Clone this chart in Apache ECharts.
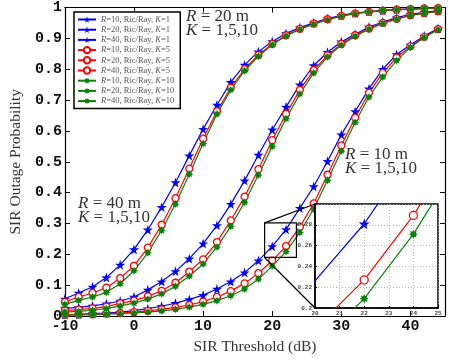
<!DOCTYPE html>
<html>
<head>
<meta charset="utf-8">
<script src="https://cdn.jsdelivr.net/npm/echarts@6/dist/echarts.min.js"></script>
<style>
  html, body { margin: 0; padding: 0; background: #fff; }
  #chart { width: 458px; height: 360px; }
</style>
</head>
<body>
<div id="chart"></div>
<script>
// SIR threshold (dB), one point every 2 dB
const sirDb = [-10, -8, -6, -4, -2, 0, 2, 4, 6, 8, 10, 12, 14, 16, 18, 20, 22, 24, 26, 28, 30, 32, 34, 36, 38, 40, 42, 44];

// outage probability
// R = 10 m (right group)
const r10k1 = [0.005, 0.006, 0.008, 0.01, 0.013, 0.018, 0.024, 0.032, 0.042, 0.054, 0.068, 0.088, 0.112, 0.141, 0.18, 0.226, 0.281, 0.35, 0.42, 0.502, 0.588, 0.663, 0.737, 0.8, 0.848, 0.879, 0.908, 0.932];
const r10k5 = [0.004, 0.005, 0.006, 0.008, 0.01, 0.013, 0.017, 0.022, 0.028, 0.036, 0.047, 0.062, 0.081, 0.106, 0.139, 0.18, 0.227, 0.289, 0.365, 0.458, 0.553, 0.643, 0.724, 0.788, 0.838, 0.874, 0.905, 0.93];
const r10k10 = [0.003, 0.004, 0.005, 0.006, 0.008, 0.01, 0.013, 0.017, 0.022, 0.029, 0.038, 0.05, 0.066, 0.088, 0.12, 0.162, 0.209, 0.271, 0.347, 0.44, 0.535, 0.628, 0.71, 0.775, 0.828, 0.871, 0.903, 0.928];
// R = 20 m (middle group)
const r20k1 = [0.025, 0.028, 0.033, 0.04, 0.049, 0.062, 0.085, 0.112, 0.145, 0.186, 0.235, 0.294, 0.363, 0.439, 0.522, 0.604, 0.678, 0.75, 0.812, 0.855, 0.889, 0.913, 0.937, 0.953, 0.967, 0.978, 0.984, 0.99];
const r20k5 = [0.018, 0.021, 0.025, 0.031, 0.041, 0.05, 0.064, 0.082, 0.108, 0.144, 0.184, 0.24, 0.31, 0.387, 0.476, 0.57, 0.655, 0.733, 0.797, 0.845, 0.882, 0.91, 0.932, 0.95, 0.963, 0.975, 0.982, 0.988];
const r20k10 = [0.013, 0.015, 0.019, 0.024, 0.033, 0.042, 0.055, 0.072, 0.097, 0.13, 0.169, 0.224, 0.291, 0.369, 0.457, 0.55, 0.64, 0.72, 0.788, 0.84, 0.878, 0.907, 0.93, 0.948, 0.962, 0.974, 0.981, 0.987];
// R = 40 m (left group)
const r40k1 = [0.056, 0.075, 0.095, 0.125, 0.166, 0.216, 0.28, 0.353, 0.433, 0.52, 0.606, 0.684, 0.758, 0.814, 0.857, 0.89, 0.916, 0.935, 0.95, 0.964, 0.975, 0.982, 0.987, 0.99, 0.993, 0.995, 0.997, 0.998];
const r40k5 = [0.046, 0.062, 0.075, 0.092, 0.123, 0.163, 0.222, 0.296, 0.382, 0.478, 0.575, 0.664, 0.74, 0.8, 0.846, 0.882, 0.91, 0.931, 0.948, 0.962, 0.973, 0.981, 0.986, 0.99, 0.993, 0.995, 0.997, 0.998];
const r40k10 = [0.038, 0.051, 0.062, 0.077, 0.105, 0.147, 0.205, 0.278, 0.363, 0.46, 0.559, 0.655, 0.733, 0.795, 0.842, 0.879, 0.908, 0.929, 0.946, 0.96, 0.972, 0.98, 0.986, 0.99, 0.993, 0.995, 0.997, 0.998];

const xTicks = [-10, 45, 10];      // min, max, interval
const yTicks = [0, 1, 0.1];
const insetX = [20, 25, 1];
const insetY = [0.2, 0.3, 0.02];
const zoomBox = [[18.9, 0.302], [23.5, 0.19]];   // box drawn in the main plot

const STAR = 'path://M50,0 L61,35 L98,35 L68,57 L79,91 L50,70 L21,91 L32,57 L2,35 L39,35 Z';
const BURST = 'path://M100,50 L77.7,61.5 L85.4,85.4 L61.5,77.7 L50,100 L38.5,77.7 L14.6,85.4 L22.3,61.5 L0,50 L22.3,38.5 L14.6,14.6 L38.5,22.3 L50,0 L61.5,22.3 L85.4,14.6 L77.7,38.5 Z';

const styleK = {
  1: { color: '#0000ff', symbol: STAR, size: 10, fill: '#0000ff' },
  5: { color: '#ff0000', symbol: 'circle', size: 7, fill: '#ffffff' },
  10: { color: '#0a820a', symbol: BURST, size: 8, fill: '#0a820a' },
};

const curves = [
  { r: 10, k: 1, y: r10k1 }, { r: 20, k: 1, y: r20k1 }, { r: 40, k: 1, y: r40k1 },
  { r: 10, k: 5, y: r10k5 }, { r: 20, k: 5, y: r20k5 }, { r: 40, k: 5, y: r40k5 },
  { r: 10, k: 10, y: r10k10 }, { r: 20, k: 10, y: r20k10 }, { r: 40, k: 10, y: r40k10 },
];

const nameOf = (c) => `{i|R}=${c.r}, Ric/Ray, {i|K}=${c.k}`;

function makeSeries(c, inset) {
  const s = styleK[c.k];
  // in the inset only markers that lie fully inside the zoom window are drawn
  const inside = (v) => v[0] > insetX[0] && v[0] < insetX[1] && v[1] > insetY[0] && v[1] < insetY[1];
  return {
    name: nameOf(c),
    type: 'line',
    xAxisIndex: inset ? 2 : 0,
    yAxisIndex: inset ? 2 : 0,
    data: sirDb.map((x, i) => [x, c.y[i]]),
    symbol: inset ? (v) => (inside(v) ? s.symbol : 'none') : s.symbol,
    symbolSize: inset ? s.size + 1 : s.size,
    showAllSymbol: true,
    clip: true,
    z: inset ? 12 : 2,
    lineStyle: { color: s.color, width: 1.2 },
    itemStyle: { color: s.fill, borderColor: s.color, borderWidth: c.k === 5 ? 1.3 : 0 },
    emphasis: { disabled: true },
    animation: false,
  };
}

const monoBold = { fontFamily: 'Liberation Mono', fontWeight: 'bold', color: '#111' };
const serif = 'Liberation Serif';

const chart = echarts.init(document.getElementById('chart'));
chart.setOption({
  animation: false,
  backgroundColor: '#fff',
  grid: [
    { left: 64, right: 13, top: 7, bottom: 40.5 },
    { left: 315, top: 204, width: 123, height: 104, show: true, z: 10,
      backgroundColor: '#fff', borderColor: '#000', borderWidth: 1.5 },
  ],
  xAxis: [
    {
      type: 'value', gridIndex: 0, min: xTicks[0], max: xTicks[1], interval: xTicks[2],
      name: 'SIR Threshold (dB)', nameLocation: 'middle', nameGap: 13,
      nameTextStyle: { fontFamily: serif, fontSize: 15.5, color: '#333' },
      axisLine: { onZero: false, lineStyle: { color: '#000', width: 1.2 } },
      axisTick: { inside: true, length: 5, lineStyle: { color: '#000' } },
      axisLabel: { ...monoBold, fontSize: 15, margin: 3, showMaxLabel: false },
      splitLine: { show: false },
    },
    {
      type: 'value', gridIndex: 0, position: 'top', min: xTicks[0], max: xTicks[1], interval: xTicks[2],
      axisLine: { onZero: false, lineStyle: { color: '#000', width: 1.2 } },
      axisTick: { inside: true, length: 5, lineStyle: { color: '#000' } },
      axisLabel: { show: false }, splitLine: { show: false },
    },
    {
      type: 'value', gridIndex: 1, min: insetX[0], max: insetX[1], interval: insetX[2], z: 11,
      axisLine: { onZero: false, lineStyle: { color: '#000', width: 1.5 } },
      axisTick: { inside: true, length: 2, lineStyle: { color: '#000' } },
      axisLabel: { fontFamily: 'Liberation Mono', fontWeight: 'bold', fontSize: 6, color: '#444', margin: 2 },
      splitLine: { show: true, lineStyle: { color: '#aaa', type: [1, 2], width: 0.8 } },
    },
  ],
  yAxis: [
    {
      type: 'value', gridIndex: 0, min: yTicks[0], max: yTicks[1], interval: yTicks[2],
      name: 'SIR Outage Probability', nameLocation: 'middle', nameGap: 29,
      nameTextStyle: { fontFamily: serif, fontSize: 15.5, color: '#333' },
      axisLine: { onZero: false, lineStyle: { color: '#000', width: 1.2 } },
      axisTick: { inside: true, length: 5, lineStyle: { color: '#000' } },
      axisLabel: { ...monoBold, fontSize: 15, margin: 3 },
      splitLine: { show: false },
    },
    {
      type: 'value', gridIndex: 0, position: 'right', min: yTicks[0], max: yTicks[1], interval: yTicks[2],
      axisLine: { onZero: false, lineStyle: { color: '#000', width: 1.2 } },
      axisTick: { inside: true, length: 5, lineStyle: { color: '#000' } },
      axisLabel: { show: false }, splitLine: { show: false },
    },
    {
      type: 'value', gridIndex: 1, min: insetY[0], max: insetY[1], interval: insetY[2], z: 11,
      axisLine: { onZero: false, lineStyle: { color: '#000', width: 1.5 } },
      axisTick: { inside: true, length: 2, lineStyle: { color: '#000' } },
      axisLabel: { fontFamily: 'Liberation Mono', fontWeight: 'bold', fontSize: 6, color: '#444', margin: 3,
        showMaxLabel: false, formatter: (v) => String(+v.toFixed(2)) },
      splitLine: { show: true, lineStyle: { color: '#aaa', type: [1, 2], width: 0.8 } },
    },
  ],
  legend: {
    orient: 'vertical', left: 74, top: 12, z: 20,
    data: curves.map(nameOf),
    backgroundColor: '#fff', borderColor: '#000', borderWidth: 1.5,
    padding: [3, 6, 3, 3], itemGap: 1.2, itemWidth: 18, itemHeight: 8,
    selectedMode: false,
    textStyle: {
      fontFamily: serif, fontSize: 8.5, lineHeight: 8, color: '#555',
      rich: { i: { fontFamily: serif, fontStyle: 'italic', fontSize: 8.5, lineHeight: 8, color: '#555' } },
    },
  },
  series: curves.map((c) => makeSeries(c, false))
    .concat(curves.filter((c) => c.r === 10).map((c) => makeSeries(c, true))),
});

// annotations + zoom box with its connector lines
const px = (p) => chart.convertToPixel({ gridIndex: 0 }, p);
const insetRect = chart.getModel().getComponent('grid', 1).coordinateSystem.getRect();
const a = px(zoomBox[0]);
const b = px(zoomBox[1]);

const note = (left, top, r) => ({
  type: 'text', left, top, z: 15,
  style: {
    text: `{i|R} = ${r} m\n{i|K} = 1,5,10`,
    font: `17px "${serif}"`, fill: '#333', lineHeight: 14,
    rich: { i: { fontFamily: serif, fontStyle: 'italic', fontSize: 17, fill: '#333' } },
  },
});

chart.setOption({
  graphic: [
    note(186, 8, 20),
    note(78, 195, 40),
    note(345, 146, 10),
    { type: 'rect', z: 15, shape: { x: a[0], y: a[1], width: b[0] - a[0], height: b[1] - a[1] },
      style: { fill: 'none', stroke: '#000', lineWidth: 1.2 } },
    { type: 'line', z: 15, shape: { x1: a[0], y1: a[1], x2: insetRect.x, y2: insetRect.y },
      style: { stroke: '#000', lineWidth: 1.2 } },
    { type: 'line', z: 15, shape: { x1: a[0], y1: b[1], x2: insetRect.x, y2: insetRect.y + insetRect.height },
      style: { stroke: '#000', lineWidth: 1.2 } },
  ],
});
</script>
</body>
</html>
